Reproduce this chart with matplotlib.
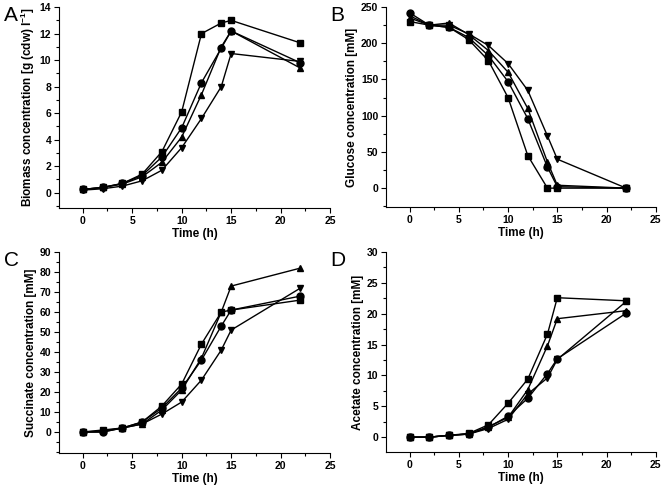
import numpy as np
import matplotlib
matplotlib.use("Agg")
import matplotlib.pyplot as plt
from matplotlib.ticker import MultipleLocator, FixedLocator

plt.rcParams['font.family'] = ['Liberation Sans', 'DejaVu Sans']
plt.rcParams['mathtext.fontset'] = 'custom'
plt.rcParams['mathtext.rm'] = 'Liberation Sans'
plt.rcParams['mathtext.bf'] = 'Liberation Sans:bold'

# sampling times (h)
t = [0, 2, 4, 6, 8, 10, 12, 14, 15, 22]

# biomass [g (cdw) l-1]
bio_sq = [0.25, 0.4, 0.7, 1.4, 3.1, 6.1, 12.0, 12.8, 13.0, 11.3]
bio_ci = [0.25, 0.4, 0.7, 1.3, 2.7, 4.9, 8.3, 10.9, 12.2, 9.8]
bio_up = [0.25, 0.4, 0.65, 1.2, 2.3, 4.2, 7.4, 11.0, 12.2, 9.4]
bio_dn = [0.2, 0.3, 0.5, 0.9, 1.7, 3.4, 5.6, 8.0, 10.5, 9.9]

# glucose [mM]
glc_sq = [230, 225, 222, 205, 176, 125, 45, 0, 0, 0]
glc_ci = [242, 225, 222, 208, 183, 147, 96, 29, 2, 0]
glc_up = [235, 225, 228, 212, 190, 160, 110, 36, 4, 0]
glc_dn = [238, 225, 225, 213, 197, 172, 135, 72, 40, 0]

# succinate [mM]
suc_sq = [0, 1, 2, 5, 13, 24, 44, 60, 61, 66]
suc_ci = [0, 0, 2, 5, 12, 22, 36, 53, 61, 68]
suc_up = [0, 0.5, 2, 4, 11, 21, 37, 60, 73, 82]
suc_dn = [0, 0, 2, 4, 9, 15, 26, 41, 51, 72]

# acetate [mM]
ace_sq = [0, 0, 0.3, 0.6, 2.0, 5.5, 9.4, 16.7, 22.6, 22.1]
ace_ci = [0, 0, 0.3, 0.5, 1.6, 3.4, 6.3, 10.3, 12.7, 20.1]
ace_up = [0, 0, 0.3, 0.5, 1.7, 3.2, 7.7, 14.8, 19.2, 20.5]
ace_dn = [0, 0, 0.3, 0.5, 1.4, 2.9, 7.0, 9.6, 12.6, 22.0]

fig = plt.figure(figsize=(6.66, 4.9), dpi=100)

panels = [
    ([0.0886, 0.5755, 0.407, 0.410], 'A', (bio_sq, bio_ci, bio_up, bio_dn),
     r'Biomass concentration [g (cdw) l$^{\mathbf{-1}}$]', (-1.15, 14), 2, 1),
    ([0.5796, 0.5776, 0.405, 0.408], 'B', (glc_sq, glc_ci, glc_up, glc_dn),
     'Glucose concentration [mM]', (-26, 250), 50, 25),
    ([0.0886, 0.0755, 0.407, 0.410], 'C', (suc_sq, suc_ci, suc_up, suc_dn),
     'Succinate concentration [mM]', (-10.5, 90), 10, 5),
    ([0.5796, 0.0776, 0.405, 0.408], 'D', (ace_sq, ace_ci, ace_up, ace_dn),
     'Acetate concentration [mM]', (-2.4, 30), 5, 2.5),
]

markers = ['s', 'o', '^', 'v']

for rect, letter, series, ylab, ylim, ymaj, ymin in panels:
    ax = fig.add_axes(rect)
    for ys, m in zip(series, markers):
        ax.plot(t, ys, color='black', lw=1.0, marker=m, ms=5, mec='black', mfc='black')
    ax.set_xlim(-2.4, 25)
    ax.set_ylim(*ylim)
    ax.xaxis.set_major_locator(FixedLocator(np.arange(0, 25.1, 5)))
    ax.xaxis.set_minor_locator(MultipleLocator(2.5))
    ax.yaxis.set_major_locator(FixedLocator(np.arange(0, ylim[1] + 0.01, ymaj)))
    ax.yaxis.set_minor_locator(MultipleLocator(ymin))
    ax.spines['top'].set_visible(False)
    ax.spines['right'].set_visible(False)
    ax.tick_params(which='major', direction='out', length=3.5, width=0.8, labelsize=7.5, pad=2)
    ax.tick_params(which='minor', direction='out', length=2, width=0.8)
    for lab in ax.get_xticklabels() + ax.get_yticklabels():
        lab.set_fontweight('bold')
    ax.set_xlabel('Time (h)', fontsize=8.5, fontweight='bold', labelpad=2)
    ax.set_ylabel(ylab, fontsize=8.5, fontweight='bold', labelpad=2)
    fig.text(rect[0] - 0.083, rect[1] + rect[3] + 0.002, letter, fontsize=15, va='top', ha='left')

fig.savefig('out.png', dpi=100)
